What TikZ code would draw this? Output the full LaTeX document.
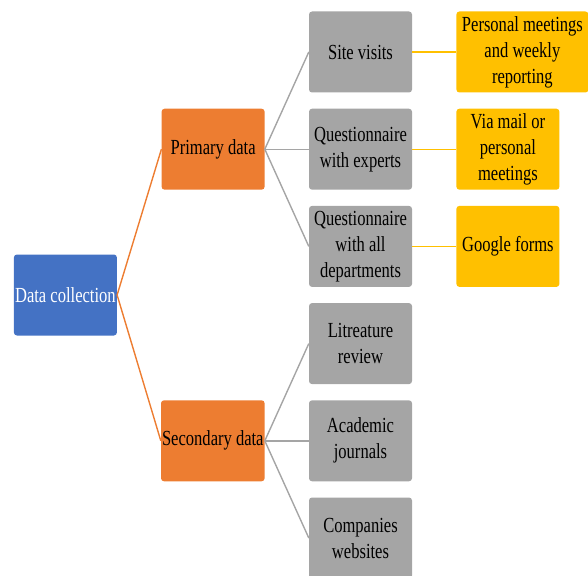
\documentclass[tikz,border=0pt]{standalone}
\usepackage{fontspec}
\setmainfont[FakeStretch=0.77]{Liberation Serif}
\usetikzlibrary{positioning}
\usetikzlibrary{calc}
\definecolor{dcblue}{HTML}{4472C4}
\definecolor{dcorange}{HTML}{ED7D31}
\definecolor{dcgray}{HTML}{A5A5A5}
\definecolor{dcgold}{HTML}{FFC000}

\begin{document}
\begin{tikzpicture}[x=1pt, y=1pt,
		box/.style={rounded corners=3pt, minimum width=103pt, minimum height=81pt, inner sep=1pt, align=center, font=\fontsize{21.5}{26}\selectfont},
		rootbox/.style={box, fill=dcblue, text=white},
		kindbox/.style={box, fill=dcorange},
		methbox/.style={box, fill=dcgray},
		waybox/.style={box, fill=dcgold},
		link/.style={line width=1.4pt},
		node distance=15.8pt and 44pt]
		\useasboundingbox (0,0) rectangle (588,-575);
		% column of methods
		\node[methbox] (site) at (360.5,-52) {Site visits};
		\node[methbox, below = of site] (qexp) {Questionnaire\\with experts};
		\node[methbox, below = of qexp] (qdep) {Questionnaire\\with all\\departments};
		\node[methbox, below = of qdep] (lit) {Litreature\\review};
		\node[methbox, below = of lit] (journ) {Academic\\journals};
		\node[methbox, below = of journ] (web) {Companies\\websites};
		% ways
		\node[waybox, right = of site, minimum width=132pt] (meet) {Personal meetings\\and weekly\\reporting};
		\node[waybox, right = of qexp] (mail) {Via mail or\\personal\\meetings};
		\node[waybox, right = of qdep] (forms) {Google forms};
		% kinds of data
		\node[kindbox, left = of qexp] (prim) {Primary data};
		\node[kindbox, left = of journ] (sec) {Secondary data};
		\coordinate (mid) at ($(prim.west)!0.5!(sec.west)$);
		\node[rootbox, left = of mid] (data) {Data collection};
		\draw[link, dcorange] (data.east) -- (prim.west);
		\draw[link, dcorange] (data.east) -- (sec.west);
		\foreach \m in {site, qexp, qdep}
			\draw[link, dcgray] (prim.east) -- (\m.west);
		\foreach \m in {lit, journ, web}
			\draw[link, dcgray] (sec.east) -- (\m.west);
		\draw[link, dcgold] (site.east) -- (meet.west);
		\draw[link, dcgold] (qexp.east) -- (mail.west);
		\draw[link, dcgold] (qdep.east) -- (forms.west);
	\end{tikzpicture}
\end{document}
